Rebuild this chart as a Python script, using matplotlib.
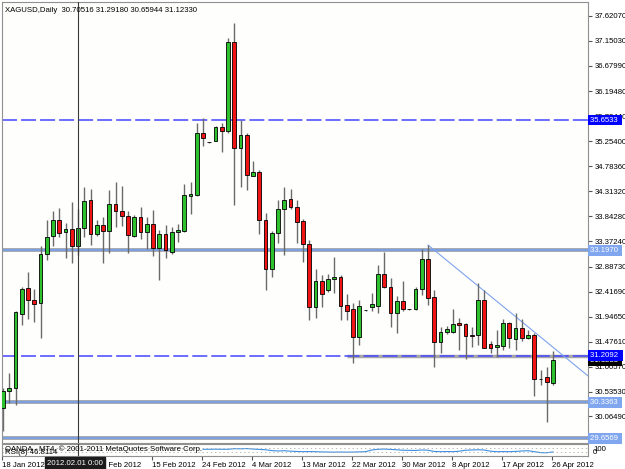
import matplotlib
matplotlib.use('Agg')
import matplotlib.pyplot as plt
import matplotlib.transforms as mtransforms

plt.rcParams['font.family'] = ['Liberation Sans', 'DejaVu Sans']
plt.rcParams['lines.scale_dashes'] = False

title = 'XAGUSD,Daily  30.70516 31.29180 30.65944 31.12330'

# daily OHLC, 18 Jan 2012 .. 26 Apr 2012
opens = [30.22, 30.54, 30.60, 32.00, 32.48, 32.27, 32.20, 33.12, 33.47, 33.77,
         33.54, 33.60, 33.28, 33.62, 34.14, 33.50, 33.67, 33.56, 34.07, 33.94,
         33.85, 33.47, 33.82, 33.55, 33.69, 33.25, 33.50, 33.17, 33.54, 33.56,
         34.23, 34.24, 35.40, 35.23, 35.26, 35.53, 35.45, 37.13, 35.13, 35.37,
         34.60, 34.67, 33.76, 32.84, 33.52, 33.97, 34.16, 34.01, 33.75, 33.31,
         32.13, 32.61, 32.44, 32.65, 32.69, 32.17, 32.09, 31.57, 32.07, 32.12,
         32.15, 32.75, 32.51, 32.01, 32.25, 32.09, 32.10, 32.46, 33.03, 32.32,
         31.47, 31.66, 31.65, 31.82, 31.80, 31.60, 31.60, 32.27, 31.43, 31.37,
         31.39, 31.83, 31.53, 31.73, 31.54, 31.60, 30.78, 30.80, 30.70516]
highs = [30.60, 30.89, 32.05, 32.50, 32.78, 32.46, 33.27, 33.77, 33.93, 33.99,
         33.72, 34.10, 33.98, 34.39, 34.35, 33.77, 33.83, 34.33, 34.49, 34.41,
         33.93, 33.86, 34.02, 33.83, 33.96, 33.58, 33.67, 33.64, 33.69, 34.44,
         34.48, 35.59, 35.69, 35.24, 35.54, 35.60, 37.19, 37.48, 35.65, 35.40,
         34.88, 34.71, 33.90, 33.57, 34.15, 34.40, 34.35, 34.15, 33.79, 33.39,
         32.84, 32.73, 32.75, 33.08, 32.74, 32.37, 32.21, 32.27, 32.08, 32.39,
         32.92, 33.17, 32.67, 32.34, 32.62, 32.10, 32.51, 33.22, 33.30, 32.44,
         31.75, 31.77, 32.09, 31.92, 31.82, 31.76, 32.58, 32.44, 31.49, 31.70,
         31.90, 31.85, 32.02, 31.90, 31.70, 31.63, 30.95, 30.99, 31.29180]
lows = [29.80, 30.32, 30.28, 31.78, 31.90, 31.85, 31.54, 33.01, 33.28, 33.44,
        33.05, 32.95, 33.11, 33.44, 33.30, 33.47, 32.96, 33.15, 33.63, 33.66,
        33.15, 33.44, 33.41, 33.22, 33.09, 32.64, 33.05, 33.13, 33.36, 33.55,
        33.88, 34.22, 35.16, 35.22, 35.25, 35.05, 35.40, 34.05, 34.40, 34.33,
        34.59, 33.50, 32.45, 32.69, 33.34, 33.11, 33.97, 33.34, 32.98, 31.88,
        31.93, 32.13, 32.42, 32.39, 31.88, 31.88, 31.08, 31.41, 32.06, 32.05,
        32.01, 32.48, 31.76, 31.63, 32.06, 32.08, 32.07, 32.36, 32.17, 31.00,
        31.26, 31.62, 31.63, 31.31, 31.14, 31.37, 31.41, 31.35, 31.27, 31.18,
        31.31, 31.36, 31.32, 31.49, 31.53, 30.45, 30.66, 29.97, 30.65944]
closes = [30.55, 30.61, 32.03, 32.46, 32.26, 32.18, 33.12, 33.45, 33.76, 33.52,
          33.60, 33.28, 33.62, 34.13, 33.50, 33.67, 33.57, 34.07, 33.93, 33.84,
          33.49, 33.83, 33.55, 33.69, 33.25, 33.51, 33.20, 33.54, 33.58, 34.24,
          34.26, 35.40, 35.31, 35.235, 35.53, 35.45, 37.13, 35.13, 35.37, 34.62,
          34.67, 33.76, 32.84, 33.52, 33.97, 34.15, 34.01, 33.74, 33.31, 32.13,
          32.61, 32.37, 32.66, 32.69, 32.15, 32.06, 31.57, 32.15, 32.07, 32.18,
          32.75, 32.51, 32.02, 32.25, 32.09, 32.09, 32.46, 33.03, 32.29, 31.46,
          31.65, 31.71, 31.80, 31.79, 31.59, 31.58, 32.27, 31.36, 31.36, 31.41,
          31.82, 31.54, 31.73, 31.54, 31.60, 30.77, 30.78, 30.71, 31.12330]

date_ticks = [0, 8, 16, 24, 32, 40, 48, 56, 64, 72, 80, 88]
date_labels = ['18 Jan 2012', '27 Jan 2012', '6 Feb 2012', '15 Feb 2012',
               '24 Feb 2012', '4 Mar 2012', '13 Mar 2012', '22 Mar 2012',
               '30 Mar 2012', '8 Apr 2012', '17 Apr 2012', '26 Apr 2012']
price_ticks = [37.6207, 37.1503, 36.6799, 36.1948, 35.7244, 35.2540, 34.7836,
               34.3132, 33.8428, 33.3724, 32.8873, 32.4169, 31.9465, 31.4761,
               31.0057, 30.5353, 30.0649]

dashed_levels = [35.6533, 31.2092]
solid_levels = [33.1970, 30.3363, 29.6569]
support_level = 31.2092
support_start = 55
last_price = 31.1233
trend_x = [68, 88]
trend_y = [33.297, 31.37]
cross_idx = 12
cross_label = '2012.02.01 0:00'

# small indicator window under the chart
rsi_start = 32
rsi_vals = [56, 56, 57, 56, 56, 61, 60, 62, 58, 55, 52, 45, 42, 44, 40, 38,
            36, 37, 36, 34, 33, 32, 33, 32, 33, 34, 36, 50, 56, 58, 55, 52,
            48, 47, 46, 50, 48, 38, 36, 37, 36, 40, 48, 50, 52, 50, 40, 36,
            37, 36, 38, 42, 44, 36, 28, 27, 34]

W, H = 625, 469
fs = 5.6
green = '#2ec12e'
red = '#f01414'
blue_dash = '#4646ff'
light_blue = '#739ef0'

fig = plt.figure(figsize=(W / 100, H / 100), dpi=100, facecolor='white')
ax = fig.add_axes([2 / W, 1 - 443 / H, 586 / W, 441 / H])
ax_rsi = fig.add_axes([2 / W, 1 - 456 / H, 586 / W, 12 / H])

x_left, x_right = -0.16, 93.6
ax.set_xlim(x_left, x_right)
ax.set_ylim(29.565, 37.878)
ax.set_facecolor('#fefefc')

xs = list(range(len(opens)))
bottoms = [min(o, c) for o, c in zip(opens, closes)]
heights = [abs(c - o) for o, c in zip(opens, closes)]
colors = [green if c >= o else red for o, c in zip(opens, closes)]

ax.vlines(xs, lows, highs, color='#6a6a6a', lw=1.0, zorder=2)
ax.bar(xs, heights, bottom=bottoms, width=0.62, color=colors,
       edgecolor='black', linewidth=0.6, zorder=3)

# horizontal levels
ax.hlines(support_level, support_start, x_right, color='#a8a8a8', lw=2.5, zorder=1)
for lv in solid_levels:
    ax.axhline(lv, color='#a8a8a8', lw=2.8, zorder=1)
    ax.axhline(lv, color=light_blue, lw=1.2, zorder=1.1)
for lv in dashed_levels:
    ax.axhline(lv, color=blue_dash, lw=1.1, dashes=(10.8, 2.9), zorder=1.2)

# trend line from the 30 Mar high, extended to the right edge
slope = (trend_y[1] - trend_y[0]) / (trend_x[1] - trend_x[0])
ax.plot([trend_x[0], x_right], [trend_y[0], trend_y[0] + slope * (x_right - trend_x[0])],
        color='#7ea3ee', lw=0.8, zorder=1.5)

# crosshair
ax.axvline(cross_idx, color='#3a3a3a', lw=0.8, zorder=4)
ax_rsi.axvline(cross_idx, color='#3a3a3a', lw=0.8, zorder=4)

# right price scale
ax.yaxis.tick_right()
ax.set_yticks(price_ticks)
ax.set_yticklabels([f'{v:.5f}' for v in price_ticks])
ax.tick_params(axis='y', length=3, width=0.8, color='#555555', labelsize=fs, pad=1.5)
ax.set_xticks([])
for s in ax.spines.values():
    s.set_color('#909090')

trans = mtransforms.blended_transform_factory(ax.transAxes, ax.transData)
box_colors = {35.6533: '#0000ff', 33.1970: '#7fa6ee', 31.2092: '#0000ff',
              30.3363: '#7fa6ee', 29.6569: '#7fa6ee'}
for lv, bc in box_colors.items():
    ax.text(1.004, lv, f'{lv:.4f} ', transform=trans, ha='left', va='center',
            fontsize=fs, color='white', clip_on=False, zorder=6,
            bbox=dict(boxstyle='square,pad=0.25', fc=bc, ec='none'))
ax.text(1.004, last_price, f'{last_price:.4f} ', transform=trans, ha='left',
        va='center', fontsize=fs, color='white', clip_on=False, zorder=5,
        bbox=dict(boxstyle='square,pad=0.25', fc='black', ec='none'))

# indicator window
ax_rsi.set_xlim(x_left, x_right)
ax_rsi.set_ylim(0, 100)
ax_rsi.set_facecolor('#fefefc')
ax_rsi.plot(range(rsi_start, rsi_start + len(rsi_vals)), rsi_vals,
            color='#3d8fe0', lw=0.8)
for lv in [30, 70]:
    ax_rsi.axhline(lv, color='#b0b0b0', lw=0.6, ls=(0, (1, 2)))
ax_rsi.set_yticks([])
ax_rsi.set_xticks([i - 0.1 for i in date_ticks])
ax_rsi.set_xticklabels(date_labels, ha='left')
ax_rsi.tick_params(axis='x', length=3, width=0.8, color='#555555', labelsize=fs, pad=1)
for s in ax_rsi.spines.values():
    s.set_color('#909090')

fig.text(5 / W, 1 - 10 / H, title, fontsize=fs, va='center')
fig.text(5 / W, 1 - 449 / H, 'OANDA - MT4, \u00a9 2001-2011 MetaQuotes Software Corp.',
         fontsize=fs, va='center')
fig.text(5 / W, 1 - 452.5 / H, 'RSI(8) 46.8114', fontsize=fs, va='center')
fig.text(593 / W, 1 - 449 / H, '100', fontsize=fs, va='center')
fig.text(593 / W, 1 - 452 / H, '0', fontsize=fs, va='center')
fig.text(75 / W, 1 - 463 / H, cross_label, ha='center', va='center', color='white',
         fontsize=fs, zorder=10,
         bbox=dict(boxstyle='square,pad=0.3', fc='#1c1c1c', ec='#1c1c1c'))

fig.savefig('out.png', dpi=100, facecolor='white')
plt.close()
